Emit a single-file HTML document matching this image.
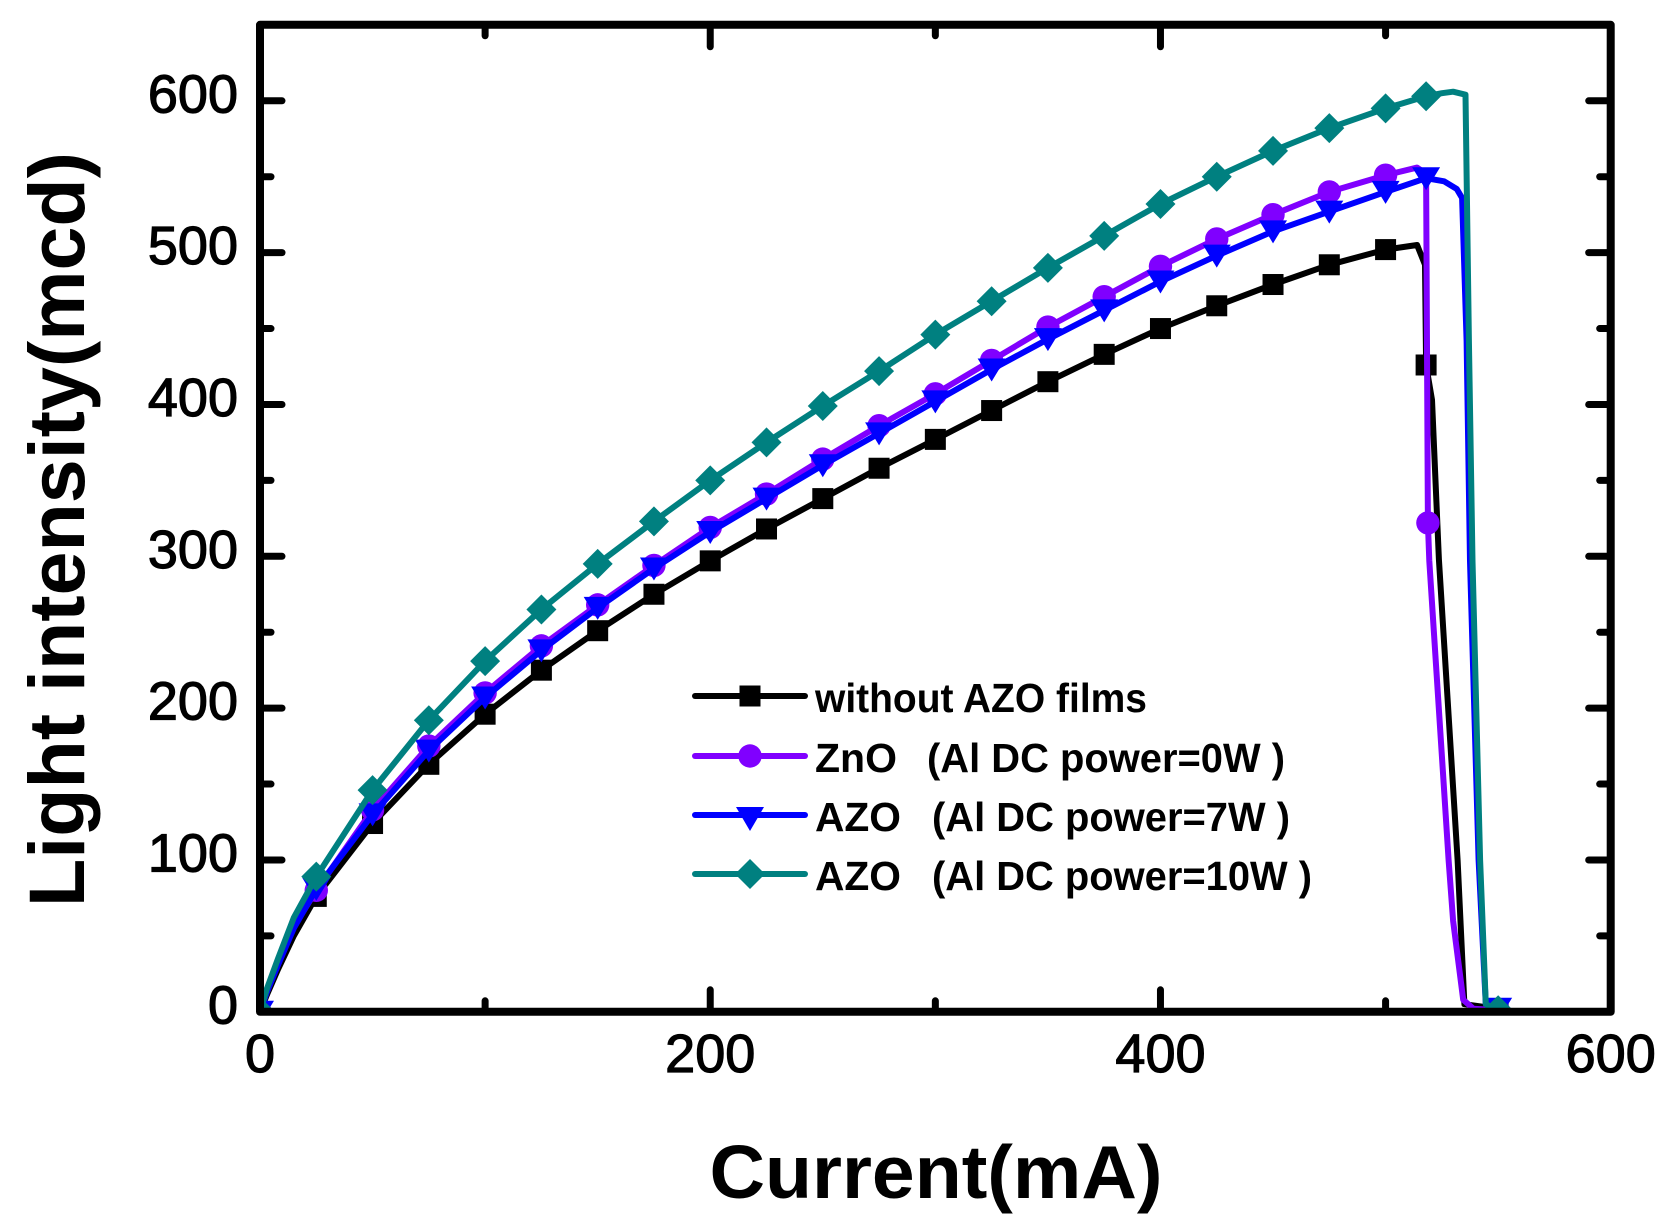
<!DOCTYPE html>
<html lang="en">
<head>
<meta charset="utf-8">
<title>Light intensity vs current</title>
<style>
html,body{margin:0;padding:0;background:#fff;width:1672px;height:1231px;overflow:hidden}
svg{display:block;font-family:"Liberation Sans",Arial,sans-serif}
.tick-label{font-size:54px;fill:#000;stroke:#000;stroke-width:1.2px}
.legend-text{font-size:41px;font-weight:700;fill:#000}
.axis-title{font-weight:700;fill:#000}
</style>
</head>
<body>
<svg id="chart" xmlns="http://www.w3.org/2000/svg" width="1672" height="1231" viewBox="0 0 1672 1231">
  <rect width="1672" height="1231" fill="#fff"/>
  <defs><clipPath id="plot-clip"><rect x="258" y="25" width="1352" height="989"/></clipPath></defs>
  <g id="series-layer" clip-path="url(#plot-clip)"></g>
  <g id="tick-layer"></g>
  <rect x="260" y="24.8" width="1350.7" height="987" fill="none" stroke="#000" stroke-width="8" stroke-linejoin="round"/>
  <g id="label-layer"></g>

  <text class="axis-title" x="709.5" y="1198" font-size="75" textLength="453" lengthAdjust="spacingAndGlyphs">Current(mA)</text>
  <text class="axis-title" transform="translate(84 907) rotate(-90)" font-size="79" textLength="755" lengthAdjust="spacingAndGlyphs">Light intensity(mcd)</text>

  <g>
    <g>
      <line x1="695" y1="696" x2="805" y2="696" stroke="#000" stroke-width="6" stroke-linecap="round"/>
      <rect x="739.5" y="685.5" width="21" height="21" fill="#000"/>
      <text class="legend-text" x="815" y="712" textLength="332" lengthAdjust="spacingAndGlyphs">without AZO films</text>
    </g>
    <g>
      <line x1="695" y1="756" x2="805" y2="756" stroke="#8000ff" stroke-width="6" stroke-linecap="round"/>
      <circle cx="750" cy="756" r="11.7" fill="#8000ff"/>
      <text class="legend-text" x="815" y="772" textLength="82" lengthAdjust="spacingAndGlyphs">ZnO</text>
      <text class="legend-text" x="927" y="772" textLength="358" lengthAdjust="spacingAndGlyphs">(Al DC power=0W )</text>
    </g>
    <g>
      <line x1="695" y1="815" x2="805" y2="815" stroke="#00f" stroke-width="6" stroke-linecap="round"/>
      <polygon points="736,807 764,807 750,831" fill="#00f"/>
      <text class="legend-text" x="815" y="831" textLength="86" lengthAdjust="spacingAndGlyphs">AZO</text>
      <text class="legend-text" x="932" y="831" textLength="358" lengthAdjust="spacingAndGlyphs">(Al DC power=7W )</text>
    </g>
    <g>
      <line x1="695" y1="874" x2="805" y2="874" stroke="#008080" stroke-width="6" stroke-linecap="round"/>
      <polygon points="750,859 765,874 750,889 735,874" fill="#008080"/>
      <text class="legend-text" x="815" y="890" textLength="86" lengthAdjust="spacingAndGlyphs">AZO</text>
      <text class="legend-text" x="932" y="890" textLength="380" lengthAdjust="spacingAndGlyphs">(Al DC power=10W )</text>
    </g>
  </g>
</svg>
<script>
const markerCurrents = [0,25,50,75,100,125,150,175,200,225,250,275,300,325,350,375,400,425,450,475,500];
const headCurrents = [3,8,15];

const blackHead = [11,28,50];
const blackIntensity = [0,76,124,163,196,225,251,275,297,318,338,358,377,396,415,433,450,465,479,492,502];
const blackTailCurrents = [514,517.5,518,520.6,523.7,532,535,550];
const blackTailIntensity = [505,492,426,403,298,100,5,2];
const blackMarkedTail = [518,550];

const purpleHead = [13,31,56];
const purpleIntensity = [0,80,133,175,210,241,268,294,319,341,364,386,407,429,451,471,491,509,525,540,551];
const purpleTailCurrents = [514,518,518.8,519.4,528,530,534.5,539,550];
const purpleTailIntensity = [556,552,322,297,100,60,8,2,1];
const purpleMarkedTail = [518.8,550];

const blueHead = [13,31,55];
const blueIntensity = [0,81,130,172,207,238,266,292,316,338,360,381,402,423,443,462,481,498,514,527,540];
const blueTailCurrents = [518,526,531.6,534,536,537.5,541.3,544.5,550];
const blueTailIntensity = [549,547,542,536,442,297,100,5,2];
const blueMarkedTail = [518,550];

const tealHead = [15,35,62];
const tealIntensity = [0,89,146,192,231,265,295,323,350,375,399,422,446,468,490,511,532,550,567,582,595];
const tealTailCurrents = [518,525,530,535.5,537,538.6,542,544.5,550];
const tealTailIntensity = [603,605,606,604,442,297,100,5,1];
const tealMarkedTail = [518,550];

const xTickLabels = [0,200,400,600];
const yTickLabels = [0,100,200,300,400,500,600];
const xMinorTicks = [100,300,500];
const yMinorTicks = [50,150,250,350,450,550,650];

const xScale = v => 260 + v * (1350.7 / 600);
const yScale = v => 1011.8 - v * (911 / 600);
const NS = 'http://www.w3.org/2000/svg';
const seriesLayer = document.getElementById('series-layer');
const tickLayer = document.getElementById('tick-layer');
const labelLayer = document.getElementById('label-layer');

function make(tag, attrs, parent) {
  const el = document.createElementNS(NS, tag);
  for (const k in attrs) el.setAttribute(k, attrs[k]);
  parent.appendChild(el);
  return el;
}

function drawMarker(shape, cx, cy, color, parent) {
  let el;
  if (shape === 'square') {
    el = make('rect', {x: cx - 10.5, y: cy - 10.5, width: 21, height: 21, fill: color}, parent);
  } else if (shape === 'circle') {
    el = make('circle', {cx: cx, cy: cy, r: 11.7, fill: color}, parent);
  } else if (shape === 'triangle') {
    el = make('polygon', {points: (cx-14)+','+(cy-11)+' '+(cx+14)+','+(cy-11)+' '+cx+','+(cy+12), fill: color}, parent);
  } else {
    el = make('polygon', {points: cx+','+(cy-15)+' '+(cx+15)+','+cy+' '+cx+','+(cy+15)+' '+(cx-15)+','+cy, fill: color}, parent);
  }
  
  
}

function drawSeries(color, shape, head, values, tailX, tailY, marked) {
  const g = make('g', {}, seriesLayer);
  
  
  const xs = [markerCurrents[0]].concat(headCurrents, markerCurrents.slice(1), tailX);
  const ys = [values[0]].concat(head, values.slice(1), tailY);
  const pts = xs.map((x, i) => xScale(x).toFixed(1) + ',' + yScale(ys[i]).toFixed(1)).join(' ');
  const line = make('polyline', {points: pts, fill: 'none', stroke: color, 'stroke-width': 6, 'stroke-linejoin': 'round'}, g);
  
  
  markerCurrents.forEach((x, i) => drawMarker(shape, xScale(x), yScale(values[i]), color, g));
  tailX.forEach((x, i) => {
    if (marked.includes(x)) drawMarker(shape, xScale(x), yScale(tailY[i]), color, g);
  });
}

drawSeries('#000', 'square', blackHead, blackIntensity, blackTailCurrents, blackTailIntensity, blackMarkedTail);
drawSeries('#8000ff', 'circle', purpleHead, purpleIntensity, purpleTailCurrents, purpleTailIntensity, purpleMarkedTail);
drawSeries('#0000ff', 'triangle', blueHead, blueIntensity, blueTailCurrents, blueTailIntensity, blueMarkedTail);
drawSeries('#008080', 'diamond', tealHead, tealIntensity, tealTailCurrents, tealTailIntensity, tealMarkedTail);

function tick(x1, y1, x2, y2) {
  const t = make('line', {x1: x1, y1: y1, x2: x2, y2: y2, stroke: '#000', 'stroke-width': 7, 'stroke-linecap': 'round'}, tickLayer);
  
  
}
function xTicks(v, len) {
  tick(xScale(v), 1011.8, xScale(v), 1011.8 - len);
  tick(xScale(v), 24.8, xScale(v), 24.8 + len);
}
function yTicks(v, len) {
  tick(260, yScale(v), 260 + len, yScale(v));
  tick(1610.7, yScale(v), 1610.7 - len, yScale(v));
}
xTickLabels.forEach(v => xTicks(v, 22));
xMinorTicks.forEach(v => xTicks(v, 11));
yTickLabels.forEach(v => yTicks(v, 22));
yMinorTicks.forEach(v => yTicks(v, 11));

xTickLabels.forEach(v => {
  const t = make('text', {x: xScale(v), y: 1072, 'text-anchor': 'middle', class: 'tick-label'}, labelLayer);
  
  
  t.textContent = v;
});
yTickLabels.forEach(v => {
  const t = make('text', {x: 238, y: yScale(v) + 11.5, 'text-anchor': 'end', class: 'tick-label'}, labelLayer);
  
  
  t.textContent = v;
});
</script>
</body>
</html>
